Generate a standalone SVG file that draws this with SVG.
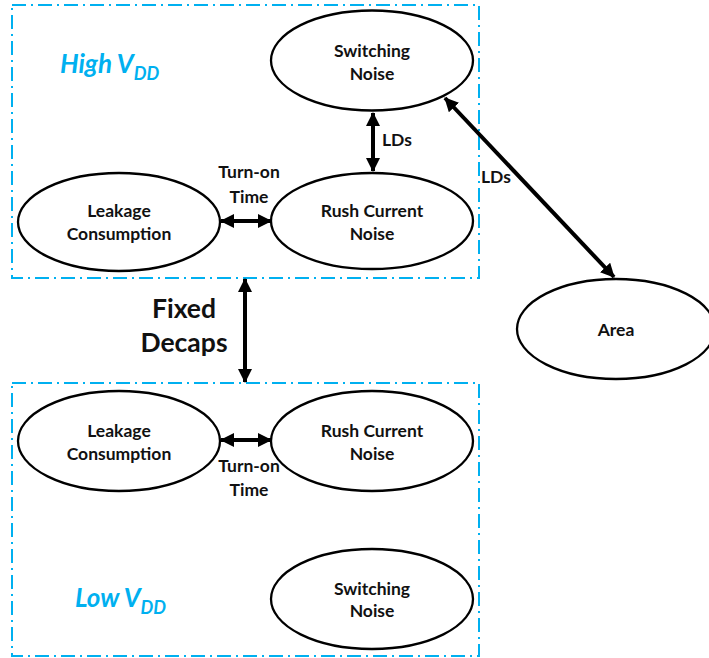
<svg xmlns="http://www.w3.org/2000/svg" width="709" height="658" viewBox="0 0 709 658">
<style>
.box{fill:none;stroke:#00B0F0;stroke-width:2;stroke-dasharray:14 5 2 5}
.nd{fill:#fff;stroke:#000;stroke-width:2.3}
.t{font-family:Lato,"Liberation Sans",sans-serif;font-weight:bold;font-size:17.5px;fill:#111;text-anchor:middle}
.lbl{font-family:Lato,"Liberation Sans",sans-serif;font-weight:bold;font-size:17.5px;fill:#111}
.big{font-family:Lato,"Liberation Sans",sans-serif;font-weight:bold;font-size:26.5px;fill:#111;text-anchor:middle}
.vdd{font-family:Lato,"Liberation Sans",sans-serif;font-weight:bold;font-style:italic;font-size:26px;fill:#00B0F0}
.c{stroke:#000;stroke-width:4;fill:none}
</style>
<defs>
<marker id="ah" viewBox="0 0 14 14" refX="13" refY="7" markerWidth="14" markerHeight="14" markerUnits="userSpaceOnUse" orient="auto-start-reverse">
<path d="M0,0 L14,7 L0,14 z" fill="#000"/>
</marker>
</defs>
<g id="high-vdd">
<rect class="box" x="12" y="5" width="467" height="273"/>
<text class="vdd" x="60" y="73">High V<tspan font-size="18" dy="7">DD</tspan></text>
</g>
<g id="low-vdd">
<rect class="box" x="12" y="383" width="467" height="273"/>
<text class="vdd" x="75" y="607">Low V<tspan font-size="18" dy="7">DD</tspan></text>
</g>
<g id="connectors">
<line class="c" x1="373" y1="113" x2="373" y2="171" marker-start="url(#ah)" marker-end="url(#ah)"/>
<line class="c" x1="221" y1="221" x2="271" y2="221" marker-start="url(#ah)" marker-end="url(#ah)"/>
<line class="c" x1="221" y1="440" x2="271" y2="440" marker-start="url(#ah)" marker-end="url(#ah)"/>
<line class="c" x1="245" y1="279" x2="245" y2="382" marker-start="url(#ah)" marker-end="url(#ah)"/>
<line class="c" x1="445" y1="98" x2="614" y2="277" stroke-width="5" marker-start="url(#ah)" marker-end="url(#ah)"/>
<text class="lbl" x="382" y="146">LDs</text>
<text class="lbl" x="481" y="183">LDs</text>
<text class="t" x="249" y="178">Turn-on</text>
<text class="t" x="249" y="203">Time</text>
<text class="t" x="249" y="472">Turn-on</text>
<text class="t" x="249" y="496">Time</text>
<text class="big" x="184" y="318">Fixed</text>
<text class="big" x="184" y="352">Decaps</text>
</g>
<g id="hi-switching">
<ellipse class="nd" cx="372" cy="60.5" rx="101" ry="50"/>
<text class="t" x="372" y="57">Switching</text>
<text class="t" x="372" y="80">Noise</text>
</g>
<g id="hi-rush">
<ellipse class="nd" cx="372" cy="221" rx="101" ry="48"/>
<text class="t" x="372" y="217">Rush Current</text>
<text class="t" x="372" y="240">Noise</text>
</g>
<g id="hi-leakage">
<ellipse class="nd" cx="119" cy="222" rx="101" ry="49"/>
<text class="t" x="119" y="217">Leakage</text>
<text class="t" x="119" y="240">Consumption</text>
</g>
<g id="area">
<ellipse class="nd" cx="616" cy="329" rx="99" ry="50"/>
<text class="t" x="616" y="336">Area</text>
</g>
<g id="lo-leakage">
<ellipse class="nd" cx="119" cy="441" rx="101" ry="50"/>
<text class="t" x="119" y="437">Leakage</text>
<text class="t" x="119" y="460">Consumption</text>
</g>
<g id="lo-rush">
<ellipse class="nd" cx="372" cy="441" rx="101" ry="50"/>
<text class="t" x="372" y="437">Rush Current</text>
<text class="t" x="372" y="460">Noise</text>
</g>
<g id="lo-switching">
<ellipse class="nd" cx="372" cy="599" rx="101" ry="50"/>
<text class="t" x="372" y="595">Switching</text>
<text class="t" x="372" y="617">Noise</text>
</g>
</svg>
